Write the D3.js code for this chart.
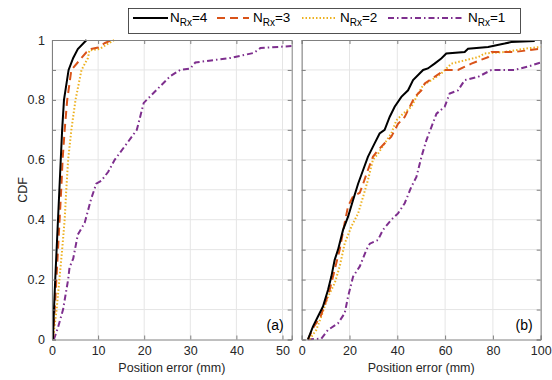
<!DOCTYPE html>
<html>
<head>
<meta charset="utf-8">
<script src="https://cdn.jsdelivr.net/npm/d3@7"></script>
<style>
  body { margin: 0; background: #fff; }
  svg { font-family: "Liberation Sans", Arial, sans-serif; }
</style>
</head>
<body>
<div id="chart"></div>
<script>
// receiver counts, one series each
const rxCounts = [4, 3, 2, 1];
const yTicks = [0, 0.2, 0.4, 0.6, 0.8, 1];
const xTicksA = [0, 10, 20, 30, 40, 50];
const xTicksB = [0, 20, 40, 60, 80, 100];

// panel (a): position error (mm) and CDF pairs
const a4Err = [0.2, 0.43, 0.7, 1.0, 1.6, 1.9, 2.2, 2.6, 3.0, 3.6, 4.6, 5.6, 7.5];
const a4Cdf = [0, 0.1, 0.2, 0.3, 0.5, 0.6, 0.7, 0.8, 0.84, 0.9, 0.94, 0.97, 1.0];
const a3Err = [0.2, 0.6, 1.3, 2.0, 2.3, 2.75, 3.3, 4.2, 6.4, 7.5, 8.5, 10, 11.5, 13];
const a3Cdf = [0, 0.1, 0.3, 0.5, 0.6, 0.7, 0.8, 0.9, 0.94, 0.96, 0.97, 0.975, 0.99, 1];
const a2Err = [0.2, 1.0, 1.6, 2.2, 2.75, 3.1, 3.5, 4.2, 5.1, 6.4, 7.8, 8.1, 10.3, 13.5];
const a2Cdf = [0, 0.1, 0.2, 0.3, 0.4, 0.5, 0.6, 0.7, 0.8, 0.9, 0.94, 0.965, 0.97, 1];
const a1Err = [0.4, 1.3, 2.4, 3.5, 3.8, 4.6, 5.6, 7.1, 8.5, 9.6, 10.7, 12.2, 13.6, 16.5, 18.4, 19.9, 22.8, 25.7, 27.8, 30, 31.1, 38.7, 43.8, 45.2, 52];
const a1Cdf = [0, 0.04, 0.1, 0.2, 0.24, 0.27, 0.35, 0.39, 0.47, 0.52, 0.53, 0.56, 0.6, 0.66, 0.7, 0.79, 0.835, 0.88, 0.9, 0.905, 0.925, 0.94, 0.957, 0.973, 0.98];

// panel (b)
const b4Err = [2.6, 4.7, 6.8, 8.9, 11.0, 12.4, 13.8, 15.2, 17.3, 19.4, 21.5, 23.6, 25.7, 27.7, 30.5, 32.6, 34.7, 36.8, 38.9, 41.7, 44.5, 46.6, 50.8, 52.8, 55.6, 58.4, 60.5, 68.2, 69.6, 78, 84.9, 87.7, 97.5];
const b4Cdf = [0, 0.043, 0.077, 0.11, 0.165, 0.21, 0.266, 0.3, 0.366, 0.41, 0.466, 0.52, 0.566, 0.61, 0.655, 0.688, 0.7, 0.743, 0.777, 0.81, 0.832, 0.866, 0.9, 0.905, 0.921, 0.938, 0.955, 0.96, 0.971, 0.977, 0.988, 0.993, 0.997];
const b3Err = [2.6, 5.1, 7.9, 9.8, 11.7, 13.8, 15.9, 18.0, 19.4, 21.5, 24.3, 25.7, 27.7, 29.8, 31.9, 34.7, 37.5, 40.3, 43.1, 45.2, 47.3, 50.1, 51.5, 55.6, 59.8, 65.4, 71, 78, 79.4, 89, 100];
const b3Cdf = [0, 0.043, 0.077, 0.12, 0.165, 0.233, 0.3, 0.39, 0.445, 0.478, 0.49, 0.52, 0.566, 0.61, 0.632, 0.655, 0.677, 0.72, 0.743, 0.777, 0.81, 0.832, 0.855, 0.877, 0.9, 0.9, 0.921, 0.943, 0.96, 0.96, 0.971];
const b2Err = [3.3, 6.1, 8.2, 11.0, 13.8, 15.9, 18.0, 20.8, 23.6, 25.7, 27.7, 29.8, 31.9, 34.7, 37.5, 39.6, 42.4, 45.9, 48.7, 50.8, 54.3, 58.4, 62.6, 68.2, 73.8, 76.6, 85, 93.4, 100];
const b2Cdf = [0, 0.032, 0.077, 0.143, 0.188, 0.244, 0.321, 0.377, 0.421, 0.477, 0.532, 0.6, 0.62, 0.655, 0.688, 0.732, 0.754, 0.777, 0.821, 0.849, 0.866, 0.888, 0.921, 0.932, 0.943, 0.955, 0.96, 0.971, 0.977];
const b1Err = [2.6, 8.2, 11.0, 15.2, 18.0, 19.4, 21.5, 24.3, 27.1, 28.5, 31.9, 34.0, 37.5, 40.3, 43.1, 45.9, 48.0, 50.1, 52.2, 54.3, 56.4, 59.8, 61.9, 65.4, 68.2, 73.8, 79.4, 89, 94.6, 100];
const b1Cdf = [0, 0.003, 0.032, 0.054, 0.088, 0.143, 0.21, 0.244, 0.3, 0.32, 0.332, 0.366, 0.4, 0.421, 0.455, 0.51, 0.543, 0.61, 0.666, 0.71, 0.754, 0.777, 0.821, 0.832, 0.866, 0.877, 0.9, 0.9, 0.911, 0.925];

const colors = ['#000000', '#D95319', '#EDB120', '#7E2F8E'];
const dashes = [null, '8,5', '1.5,2', '6,3,1.5,3'];

const W = 552, H = 380;
const plotTop = 40, plotBottom = 339.5;

const svg = d3.select('#chart').append('svg')
    .attr('width', W)
    .attr('height', H);

function zip(xs, ys) {
    return xs.map((x, i) => ({ err: x, cdf: ys[i] }));
}

function drawPanel(opts) {
    let x = d3.scaleLinear().domain(opts.domain).range([opts.left, opts.right]);
    let y = d3.scaleLinear().domain([0, 1]).range([plotBottom, plotTop]);
    let g = svg.append('g');

    // grid
    g.selectAll('.gx')
        .data(opts.xTicks)
        .join('line')
        .attr('x1', d => x(d)).attr('x2', d => x(d))
        .attr('y1', plotTop).attr('y2', plotBottom)
        .attr('stroke', '#e5e5e5');
    g.selectAll('.gy')
        .data(d3.range(1, 10).map(d => d / 10))
        .join('line')
        .attr('x1', opts.left).attr('x2', opts.right)
        .attr('y1', d => y(d)).attr('y2', d => y(d))
        .attr('stroke', '#e5e5e5');

    // series
    let clipId = 'clip' + opts.name;
    svg.append('clipPath').attr('id', clipId)
        .append('rect')
        .attr('x', opts.left).attr('y', plotTop - 1)
        .attr('width', opts.right - opts.left).attr('height', plotBottom - plotTop + 2);

    let line = d3.line().x(d => x(d.err)).y(d => y(d.cdf));
    g.append('g').attr('clip-path', `url(#${clipId})`)
        .selectAll('path')
        .data(opts.series.slice().reverse())
        .join('path')
        .attr('d', d => line(d.points))
        .attr('fill', 'none')
        .attr('stroke', d => colors[d.idx])
        .attr('stroke-width', 2)
        .attr('stroke-dasharray', d => dashes[d.idx]);

    // axes with inward ticks on all four sides
    let axisColor = '#808080';
    let yAll = d3.range(0, 11).map(d => d / 10);
    let xb = d3.axisBottom(x).tickValues(opts.xTicks).tickSize(-4).tickPadding(7).tickFormat(d3.format('d'));
    let xt = d3.axisTop(x).tickValues(opts.xTicks).tickSize(-4).tickFormat('');
    let yl = d3.axisLeft(y).tickValues(yAll).tickSize(-4).tickPadding(7)
        .tickFormat(d => opts.yLabels && yTicks.some(t => Math.abs(t - d) < 1e-9) ? d3.format('~g')(d) : '');
    let yr = d3.axisRight(y).tickValues(yAll).tickSize(-4).tickFormat('');

    [[xb, `translate(0,${plotBottom})`], [xt, `translate(0,${plotTop})`],
     [yl, `translate(${opts.left},0)`], [yr, `translate(${opts.right},0)`]].forEach(function(a) {
        let ag = g.append('g').attr('transform', a[1]).call(a[0]);
        ag.select('.domain').attr('stroke', axisColor);
        ag.selectAll('.tick line').attr('stroke', axisColor);
        ag.selectAll('.tick text').attr('fill', '#262626').attr('font-size', 12.5)
            .attr('font-family', '"Liberation Sans", Arial, sans-serif');
    });

    g.append('text')
        .attr('x', (opts.left + opts.right) / 2)
        .attr('y', 372)
        .attr('text-anchor', 'middle')
        .attr('font-size', 12.5)
        .attr('fill', '#262626')
        .text('Position error (mm)');

    g.append('text')
        .attr('x', opts.right - 8)
        .attr('y', 330)
        .attr('text-anchor', 'end')
        .attr('font-size', 14)
        .attr('fill', '#000')
        .text(opts.tag);
}

drawPanel({
    name: 'a', left: 52, right: 291.7, domain: [0, 52], xTicks: xTicksA, yLabels: true, tag: '(a)',
    series: [zip(a4Err, a4Cdf), zip(a3Err, a3Cdf), zip(a2Err, a2Cdf), zip(a1Err, a1Cdf)]
        .map((p, i) => ({ points: p, idx: i }))
});
drawPanel({
    name: 'b', left: 301.7, right: 540.7, domain: [0, 100], xTicks: xTicksB, yLabels: false, tag: '(b)',
    series: [zip(b4Err, b4Cdf), zip(b3Err, b3Cdf), zip(b2Err, b2Cdf), zip(b1Err, b1Cdf)]
        .map((p, i) => ({ points: p, idx: i }))
});

svg.append('text')
    .attr('transform', 'translate(27,190) rotate(-90)')
    .attr('text-anchor', 'middle')
    .attr('font-size', 12.5)
    .attr('fill', '#262626')
    .text('CDF');

// legend
let legend = svg.append('g');
legend.append('rect')
    .attr('x', 128.5).attr('y', 8.5)
    .attr('width', 392).attr('height', 25)
    .attr('fill', '#fff')
    .attr('stroke', '#262626')
    .attr('stroke-width', 0.8);

let lineStarts = [133, 217, 302, 388];
let lineEnds = [168, 249, 337, 463];
let textStarts = [170, 253, 340, 468];

rxCounts.forEach(function(n, i) {
    legend.append('line')
        .attr('x1', lineStarts[i]).attr('x2', lineEnds[i])
        .attr('y1', 18).attr('y2', 18)
        .attr('stroke', colors[i])
        .attr('stroke-width', 2)
        .attr('stroke-dasharray', dashes[i]);
    let t = legend.append('text')
        .attr('x', textStarts[i])
        .attr('y', 22)
        .attr('font-size', 13.5)
        .attr('fill', '#000');
    t.append('tspan').text('N');
    t.append('tspan').attr('dy', 4).attr('font-size', 10).text('Rx');
    t.append('tspan').attr('dy', -4).text('=' + n);
});
</script>
</body>
</html>
